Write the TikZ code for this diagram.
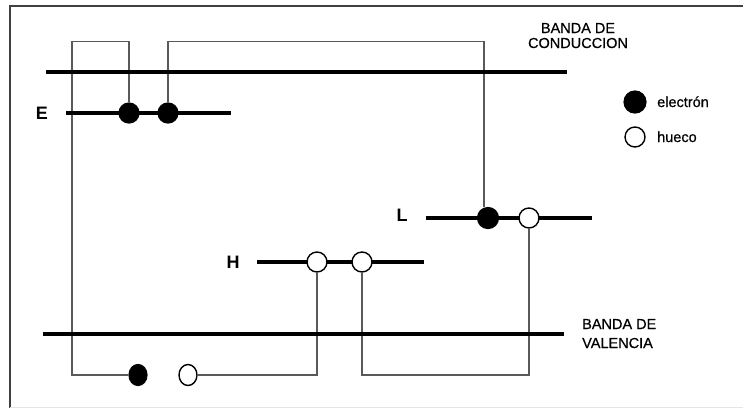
\documentclass[tikz,border=0pt]{standalone}
\usepackage{fontspec}
\setmainfont{Liberation Sans}
\newfontfamily\rotulo[FakeBold=0.6]{Liberation Sans}
\usetikzlibrary{positioning, shapes.geometric, calc}
\pgfdeclarelayer{cables}
\pgfdeclarelayer{bandas}
\pgfsetlayers{cables,bandas,main}
\tikzset{
    banda/.style={line width=4.5pt, line cap=rect},
    nivel/.style={line width=4pt},
    cable/.style={line width=1.1pt, color=black!65},
    elec/.style={circle, draw=black, fill=black, line width=1.2pt, minimum size=20pt, inner sep=0pt},
    hueco/.style={circle, draw=black, fill=white, line width=1.4pt, minimum size=20pt, inner sep=0pt},
    elecb/.style={ellipse, draw=black, fill=black, line width=1.2pt, minimum width=18pt, minimum height=21pt, inner sep=0pt},
    huecob/.style={ellipse, draw=black, fill=white, line width=1.4pt, minimum width=18pt, minimum height=21pt, inner sep=0pt},
    etiq/.style={font=\rotulo\fontsize{14.5}{15}\selectfont, inner sep=0pt},
    nivlab/.style={font=\fontsize{18}{18}\selectfont\bfseries, inner sep=0pt}
}

\begin{document}
\begin{tikzpicture}[x=1pt, y=-1pt]
    \useasboundingbox (0,0) rectangle (743,408);
    \draw[black!75, line width=1.6pt] (743,6) -- (10,6) -- (10,408);
    \draw[black!10, line width=1pt] (10,407) -- (743,407);

    % niveles de energia
    \begin{pgfonlayer}{bandas}
        \draw[banda] (48,72) -- (565,72);
        \draw[banda] (45,334) -- (562,334);
        \draw[nivel] (66,113) -- (231,113);
        \draw[nivel] (426,218) -- (592,218);
        \draw[nivel] (257,262) -- (424,262);
    \end{pgfonlayer}

    \node[nivlab] (labE) at (42,113) {E};
    \node[nivlab] (labL) at (402,215) {L};
    \node[nivlab] (labH) at (233,262) {H};

    \node[elec] (e1) at (129,113) {};
    \node[elec] (e2) at (168,113) {};
    \node[elec, minimum size=21pt] (l1) at (488,218) {};
    \node[hueco] (l2) at (529,218) {};
    \node[hueco] (h1) at (317,262) {};
    \node[hueco] (h2) at (362,262) {};
    \node[elecb] (b1) at (138,375) {};
    \node[huecob] (b2) at (188,375) {};

    % recorridos
    \coordinate (w1) at (72,41.5);
    \coordinate (w2) at (484,41.5);
    \coordinate (w3) at (362,375);
    \begin{pgfonlayer}{cables}
        \draw[cable] (e1) |- (w1) |- (b1);
        \draw[cable] (e2) |- (w2) -- (w2 |- l1.north);
        \draw[cable] (l2) |- (w3) -- (h2);
        \draw[cable] (h1) |- (b2);
    \end{pgfonlayer}

    \node[etiq, align=center, anchor=base] (cond) at (578,48) {BANDA DE\\CONDUCCION};
    \node[etiq, align=left, anchor=base west, font=\rotulo\fontsize{14.5}{19}\selectfont] (val) at (582,348) {BANDA DE\\VALENCIA};

    % leyenda
    \node[elec, minimum size=22pt] (ley1) at (635,102) {};
    \node[hueco] (ley2) at (635,137) {};
    \node[etiq, anchor=base west] (txt1) at (657,107) {electrón};
    \node[etiq, anchor=base west] (txt2) at (657,142) {hueco};
\end{tikzpicture}
\end{document}
